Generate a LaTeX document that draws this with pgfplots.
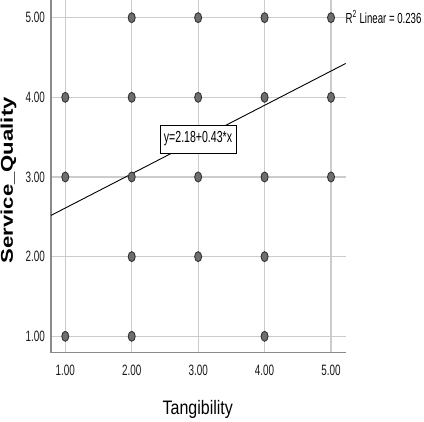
\documentclass[border=0pt]{standalone}
\usepackage{pgfplots}
\pgfplotsset{compat=1.18}
\usepackage{fontspec}
\setmainfont{Liberation Sans}
\newfontfamily\tickfont[FakeStretch=0.66]{Liberation Sans}
\newfontfamily\xlabfont[FakeStretch=0.82]{Liberation Sans}
\definecolor{gridgray}{HTML}{CCCCCC}
\definecolor{axisgray}{HTML}{8A8A8A}
\definecolor{markfill}{HTML}{6E6E6E}
\definecolor{markdraw}{HTML}{333333}
\begin{document}
\begin{tikzpicture}
\path[use as bounding box] (0,0) rectangle (424bp,422bp);
\begin{axis}[
  at={(51bp,69.3bp)}, anchor=south west,
  scale only axis, width=294.7bp, height=352.7bp,
  xmin=0.785, xmax=5.221, ymin=0.794, ymax=5.222,
  axis x line=bottom, axis y line=left,
  axis line style={-, axisgray, line width=1.4bp},
  xtick={1,2,3,4,5}, ytick={1,2,3,4,5},
  xticklabels={1.00,2.00,3.00,4.00,5.00},
  yticklabels={1.00,2.00,3.00,4.00,5.00},
  major tick length=0pt,
  grid=major,
  major grid style={gridgray, line width=1.2bp},
  ticklabel style={font=\tickfont\fontsize{15bp}{18bp}\selectfont, inner sep=0pt, text=black!90},
  xticklabel style={anchor=north, yshift=-12bp},
  yticklabel style={anchor=east, xshift=-6bp},
  xlabel={Tangibility},
  ylabel={\scalebox{1.3}[1]{\bfseries Service\_Quality}},
  xlabel style={font=\xlabfont\fontsize{19.5bp}{22bp}\selectfont, at={(axis description cs:0.498,-0.162)}, anchor=center},
  ylabel style={font=\fontsize{17bp}{20bp}\selectfont, at={(axis description cs:-0.144,0.489)}, anchor=center},
  clip=false,
]
\addplot[black, line width=0.9bp] coordinates {(0.785,2.5176) (5.221,4.4250)};
\node[draw=black, line width=0.9bp, fill=white, inner sep=0pt, minimum width=76bp, minimum height=28bp,
  font=\tickfont\fontsize{16bp}{18bp}\selectfont] at (axis cs:2.998,3.477) {y=2.18+0.43*x};
\addplot[only marks, mark=*, mark size=5bp,
  mark options={xscale=0.7, fill=markfill, draw=markdraw, line width=0.9bp}]
  coordinates {
  (2,5) (3,5) (4,5) (5,5)
  (1,4) (2,4) (3,4) (4,4) (5,4)
  (1,3) (2,3) (3,3) (4,3) (5,3)
  (2,2) (3,2) (4,2)
  (1,1) (2,1) (4,1)
  };
\end{axis}
\node[anchor=west, inner sep=0pt, font=\tickfont\fontsize{14.6bp}{18bp}\selectfont] at (345.5bp,405bp) {R\textsuperscript{2} Linear = 0.236};
\end{tikzpicture}
\end{document}
